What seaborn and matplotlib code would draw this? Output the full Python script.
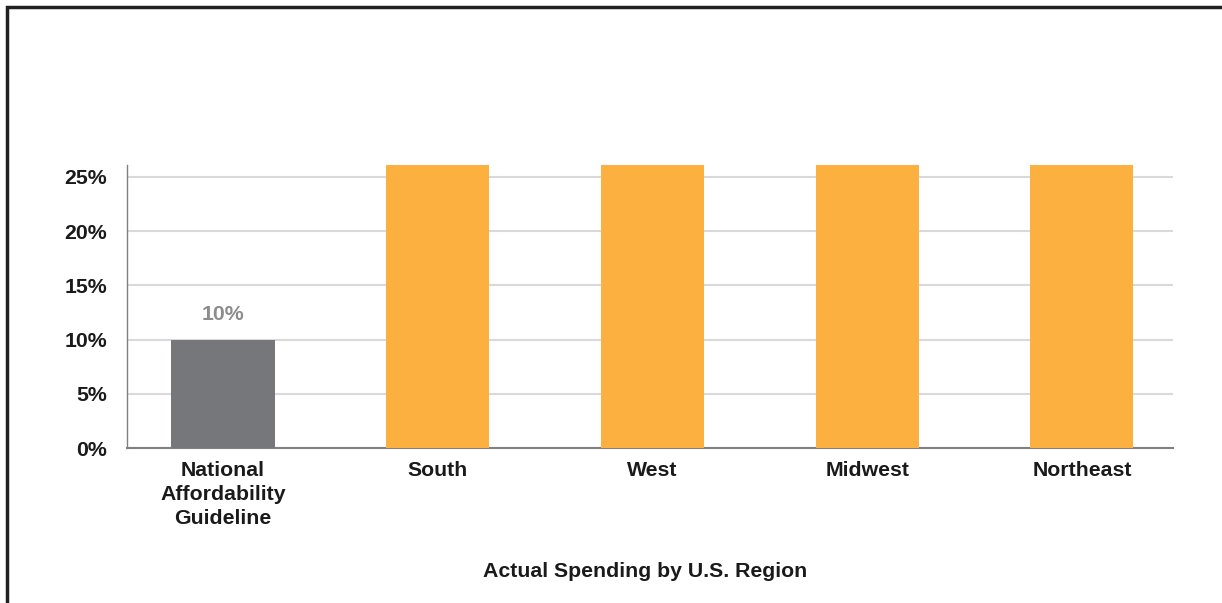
import matplotlib
matplotlib.use("Agg")
import matplotlib.pyplot as plt
import seaborn as sns
import pandas as pd
from matplotlib.patches import Rectangle

categories = ["National\nAffordability\nGuideline", "South", "West", "Midwest", "Northeast"]
values = [10, 30, 31, 29, 32]  # regional bars exceed the axis top and are clipped in the reference
bar_colors = ["#76777A", "#FBB040", "#FBB040", "#FBB040", "#FBB040"]
y_ticks = [0, 5, 10, 15, 20, 25]
y_tick_labels = ["0%", "5%", "10%", "15%", "20%", "25%"]
annot_index = 0
annot_text = "10%"
x_title = "Actual Spending by U.S. Region"

sns.set_theme(style="white")
plt.rcParams['font.family'] = ['Liberation Sans', 'DejaVu Sans']

df = pd.DataFrame({"cat": categories, "val": values})

fig = plt.figure(figsize=(12.22, 6.03), dpi=100)
ax = fig.add_axes([127/1222, 1 - 448/603, (1173-127)/1222, (448-165)/603])

sns.barplot(data=df, x="cat", y="val", hue="cat", palette=bar_colors, legend=False,
            width=0.48, ax=ax, saturation=1, zorder=3, edgecolor="none", linewidth=0)

FS = 15.3
ax.set_xlim(-0.447, 4.424)
ax.set_ylim(0, 26.1)
ax.set_yticks(y_ticks)
ax.set_yticklabels(y_tick_labels)
ax.yaxis.grid(True, color="#D9D9D9", linewidth=1.5, zorder=0)
ax.set_axisbelow(True)
for s in ["top", "right"]:
    ax.spines[s].set_visible(False)
ax.spines["left"].set_color("#808080")
ax.spines["bottom"].set_color("#808080")
ax.spines["left"].set_linewidth(1.0)
ax.spines["bottom"].set_linewidth(1.5)
ax.tick_params(axis="both", length=0, labelsize=FS)
ax.tick_params(axis="y", pad=14.4)
ax.tick_params(axis="x", pad=9.2)
for lbl in ax.get_xticklabels() + ax.get_yticklabels():
    lbl.set_fontweight("bold")
    lbl.set_color("#1a1a1a")
for lbl in ax.get_xticklabels():
    lbl.set_linespacing(1.33)
    lbl.set_verticalalignment("top")

ax.set_xlabel(x_title, fontsize=FS, fontweight="bold", color="#1a1a1a", labelpad=25)
ax.xaxis.label.set_x((645.5 - 127) / 1046)
ax.set_ylabel("")

ax.text(annot_index, values[annot_index] + 2.3, annot_text, ha="center", va="center",
        fontsize=FS, fontweight="bold", color="#8C8C8C")

fig.patches.append(Rectangle((7/1222, -0.1), 1.2, (1 - 7/603) + 0.1,
                             transform=fig.transFigure, fill=False,
                             edgecolor="#222222", linewidth=2.5, figure=fig))

fig.savefig("out.png", dpi=100)
